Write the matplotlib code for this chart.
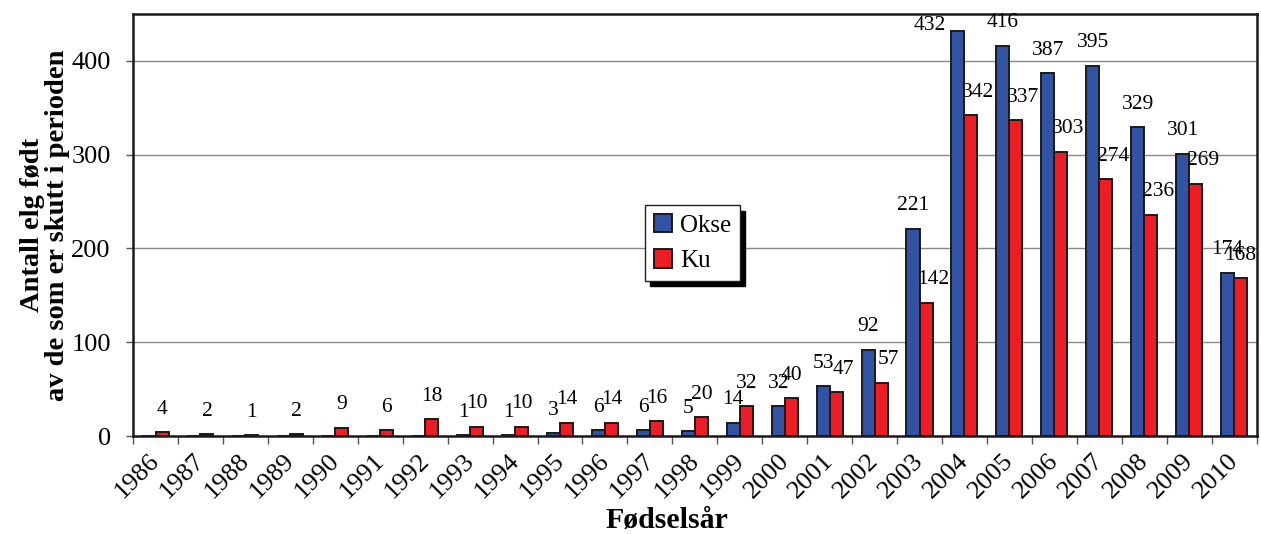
import numpy as np
import matplotlib
matplotlib.use('Agg')
import matplotlib.pyplot as plt
from matplotlib.transforms import ScaledTranslation

# Antall elg født per år, fordelt på kjønn (av de som er skutt i perioden)
aar = ['1986', '1987', '1988', '1989', '1990', '1991', '1992', '1993', '1994',
       '1995', '1996', '1997', '1998', '1999', '2000', '2001', '2002', '2003',
       '2004', '2005', '2006', '2007', '2008', '2009', '2010']
okse = [0, 0, 0, 0, 0, 0, 0, 1, 1, 3, 6, 6, 5, 14, 32, 53, 92, 221,
        432, 416, 387, 395, 329, 301, 174]
ku = [4, 2, 1, 2, 9, 6, 18, 10, 10, 14, 14, 16, 20, 32, 40, 47, 57, 142,
      342, 337, 303, 274, 236, 269, 168]

plt.rcParams['font.family'] = ['Liberation Serif', 'DejaVu Serif']

blaa = '#3253a4'
roed = '#ee1d25'
ymax = 450

fig = plt.figure(figsize=(12.61, 5.34), dpi=100)
ax = fig.add_axes([0.1055, 0.1835, 0.891, 0.7903])

x = np.arange(len(aar))
b = 0.29
ax.bar(x - b / 2, okse, b, color=blaa, edgecolor='#1a1a1a', linewidth=1.4,
       label='Okse', zorder=3)
ax.bar(x + b / 2, ku, b, color=roed, edgecolor='#1a1a1a', linewidth=1.4,
       label='Ku', zorder=3)

ax.set_xlim(-0.5, len(aar) - 0.5)
ax.set_ylim(0, ymax)


def etikett(xpos, verdi, dx):
    if verdi == 0:
        return
    if verdi + 25 > ymax:
        # ikke plass over søylen: legg tallet til venstre
        ax.annotate(str(verdi), (xpos, verdi), xytext=(-20, 4),
                    textcoords='offset points', ha='center', va='center',
                    fontsize=15.5, zorder=4)
    else:
        ax.annotate(str(verdi), (xpos, verdi), xytext=(dx, 16.5),
                    textcoords='offset points', ha='center', va='center',
                    fontsize=15.5, zorder=4)


for i in range(len(aar)):
    etikett(x[i] - b / 2, okse[i], 0)
    etikett(x[i] + b / 2, ku[i], 5 if (ku[i] > 45 and i < len(aar) - 1) else 0)

# akser
ax.set_yticks([0, 100, 200, 300, 400])
ax.yaxis.grid(True, color='#888888', linewidth=1.0, zorder=0)
ax.tick_params(axis='y', direction='out', length=5, width=1, pad=11,
               labelsize=19, color='#555555')
ax.set_xticks(np.arange(len(aar) + 1) - 0.5)
ax.set_xticklabels([])
ax.set_xticks(x, minor=True)
ax.set_xticklabels(aar, minor=True, rotation=45, ha='right', va='top',
                   rotation_mode='anchor', fontsize=19)
ax.tick_params(axis='x', which='major', direction='out', length=6, width=1,
               color='#555555')
ax.tick_params(axis='x', which='minor', length=0, pad=10)
forskyv = ScaledTranslation(-7 / 100, 0, fig.dpi_scale_trans)
for lbl in ax.get_xticklabels(minor=True):
    lbl.set_transform(lbl.get_transform() + forskyv)

for s in ax.spines.values():
    s.set_linewidth(1.8)
    s.set_color('#1a1a1a')

ax.set_ylabel('Antall elg født\nav de som er skutt i perioden', fontsize=20.5,
              fontweight='bold', labelpad=1, linespacing=1.0)
fig.text(0.529, 0.0, 'Fødselsår', fontsize=21.5, fontweight='bold',
         ha='center', va='bottom')

leg = ax.legend(loc='upper left', bbox_to_anchor=(0.4555, 0.547), fontsize=18,
                frameon=True, fancybox=False, edgecolor='#222222',
                shadow={'color': 'black', 'alpha': 1, 'ox': 4, 'oy': -4},
                handlelength=0.75, handleheight=0.75, handletextpad=0.3,
                borderpad=0.35, labelspacing=0.5, borderaxespad=0)
leg.get_frame().set_linewidth(1.0)
leg.set_zorder(5)

fig.savefig('out.png', dpi=100)
